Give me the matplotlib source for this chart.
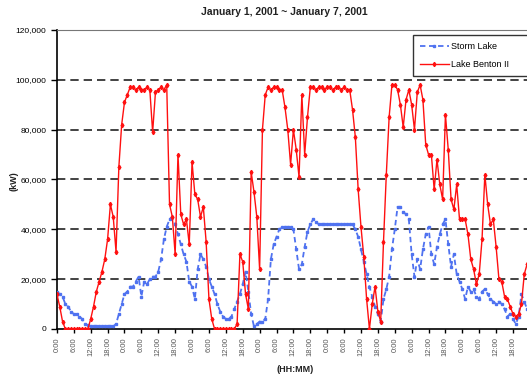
import matplotlib.pyplot as plt
from matplotlib.ticker import FuncFormatter

plt.rcParams['font.family'] = ['Liberation Sans', 'DejaVu Sans']

# hourly output, Jan 1 0:00 .. Jan 7 23:00 (thousand kW)
hours = list(range(168))
storm_lake = [15, 14, 13, 10, 9, 7, 6, 6, 5, 4,
              2, 1.5, 1, 1, 1, 1, 1, 1, 1, 1,
              1, 2, 6, 10, 14, 15, 17, 17, 19, 21,
              13, 19, 18, 20, 21, 21, 23, 28, 36, 41,
              44, 45, 42, 38, 34, 30, 27, 19, 17, 12,
              24, 30, 28, 25, 20, 17, 14, 10, 7, 5,
              4, 4, 5, 8, 11, 14, 18, 23, 15, 6,
              1, 2, 3, 3, 4, 12, 28, 34, 37, 40,
              41, 41, 41, 41, 40, 32, 24, 26, 33, 39,
              42, 44, 43, 42, 42, 42, 42, 42, 42, 42,
              42, 42, 42, 42, 42, 42, 40, 37, 32, 27,
              22, 17, 13, 9, 6, 3, 12, 16, 21, 32,
              40, 49, 49, 47, 46, 44, 30, 21, 28, 24,
              32, 38, 41, 30, 26, 33, 38, 42, 44, 34,
              25, 30, 22, 19, 16, 12, 17, 15, 16, 13,
              12, 15, 16, 14, 12, 11, 10, 11, 10, 8,
              5, 6, 4, 2, 5, 14, 11, 8]
lake_benton = [14, 9, 3, 0, 0, 0, 0, 0, 0, 0,
               0, 0, 4, 9, 15, 19, 23, 28, 36, 50,
               45, 31, 65, 82, 91, 94, 97, 97, 96, 97,
               96, 96, 97, 96, 79, 95, 96, 97, 96, 98,
               50, 45, 30, 70, 46, 42, 44, 34, 67, 54,
               52, 45, 49, 35, 12, 4, 0, 0, 0, 0,
               0, 0, 0, 0, 2, 30, 27, 14, 8, 63,
               55, 45, 24, 80, 94, 97, 96, 97, 97, 96,
               96, 89, 80, 66, 80, 72, 61, 94, 70, 85,
               97, 97, 96, 97, 97, 96, 97, 97, 96, 97,
               97, 96, 97, 96, 96, 88, 77, 56, 41, 29,
               12, 0, 10, 17, 7, 3, 35, 62, 85, 98,
               98, 96, 90, 81, 92, 96, 90, 80, 95, 98,
               92, 74, 70, 70, 56, 68, 58, 52, 86, 72,
               52, 48, 58, 44, 44, 44, 38, 28, 24, 18,
               22, 36, 62, 50, 42, 44, 33, 20, 19, 13,
               12, 9, 6, 5, 6, 10, 22, 26]

tick_hours = list(range(0, 168, 6))
tick_labels = [f"{h % 24}:00" for h in tick_hours]

fig = plt.figure(figsize=(5.27, 3.85), dpi=100)
ax = fig.add_axes([0.108, 0.1455, 0.8975, 0.7766])

ax.plot(hours, [v * 1000 for v in storm_lake], color='#4f72f0', lw=1.3,
        linestyle=(0, (3, 2)), marker='s', ms=1.6, label='Storm Lake', zorder=3)
ax.plot(hours, [v * 1000 for v in lake_benton], color='#ff1010', lw=1.0,
        marker='d', ms=2.2, label='Lake Benton II', zorder=4)

ax.set_xlim(0, 168)
ax.set_ylim(0, 120000)
ax.set_yticks(range(0, 120001, 20000))
ax.yaxis.set_major_formatter(FuncFormatter(lambda v, p: f"{int(v):,}"))
ax.set_xticks(tick_hours)
ax.set_xticklabels(tick_labels, rotation=90, fontsize=5.5, color='#555555')
ax.tick_params(axis='y', labelsize=6, length=4, width=1)
ax.tick_params(axis='x', length=3, width=1, pad=3)

for y in range(20000, 100001, 20000):
    ax.axhline(y, color='#222222', lw=1.2, linestyle=(0, (5, 3)), zorder=1)

ax.spines['left'].set_linewidth(1.2)
ax.spines['bottom'].set_linewidth(1.2)
ax.spines['top'].set_color('#777777')
ax.spines['top'].set_linewidth(0.8)
ax.spines['right'].set_visible(False)

fig.text(0.54, 0.969, 'January 1, 2001 ~ January 7, 2001', ha='center', va='center',
         fontsize=7.5, fontweight='bold', color='#222222')
fig.text(0.027, 0.53, '(kW)', rotation=90, ha='center', va='center',
         fontsize=6.5, fontweight='bold', color='#222222')
fig.text(0.56, 0.039, '(HH:MM)', ha='center', va='center',
         fontsize=6.5, fontweight='bold', color='#222222')

leg = ax.legend(loc='upper left', mode='expand',
                bbox_to_anchor=(413 / 527, 1 - 76 / 385, 125 / 527, 41 / 385),
                bbox_transform=fig.transFigure, fontsize=6.5, frameon=True,
                fancybox=False, borderpad=0.75, handlelength=3.2, labelspacing=1.0,
                handletextpad=0.3, borderaxespad=0)
leg.get_frame().set_edgecolor('black')
leg.get_frame().set_linewidth(1.0)

fig.savefig('out.png', dpi=100)
